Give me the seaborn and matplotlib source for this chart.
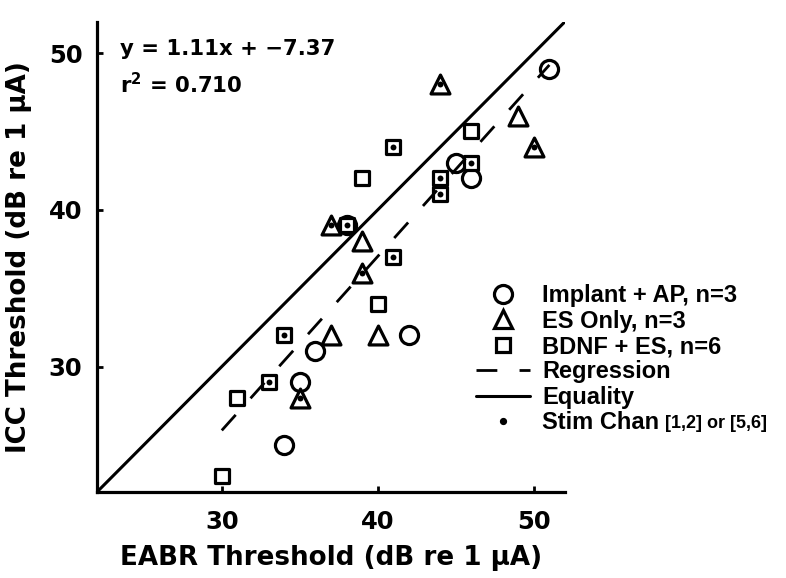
import numpy as np
import pandas as pd
import matplotlib
matplotlib.use("Agg")
import matplotlib.pyplot as plt
import seaborn as sns
from matplotlib.lines import Line2D

# data (EABR x, ICC y), dot = stim chan [1,2] or [5,6]
implant_x = [51, 45, 46, 36, 35, 34, 42, 38]
implant_y = [49, 43, 42, 31, 29, 25, 32, 39]
implant_dot = [0, 0, 0, 0, 0, 0, 0, 0]

es_x = [44, 49, 50, 37, 39, 39, 37, 40, 35]
es_y = [48, 46, 44, 39, 38, 36, 32, 32, 28]
es_dot = [1, 0, 1, 1, 0, 1, 0, 0, 1]

bdnf_x = [46, 41, 39, 46, 44, 44, 38, 41, 40, 34, 33, 31, 30]
bdnf_y = [45, 44, 42, 43, 42, 41, 39, 37, 34, 32, 29, 28, 23]
bdnf_dot = [0, 1, 0, 1, 1, 1, 1, 1, 0, 1, 1, 0, 0]

slope = 1.11
intercept = -7.37
r2 = 0.710

ticks = [30, 40, 50]
axis_lim = [22, 52]

groups = ["Implant + AP, n=3", "ES Only, n=3", "BDNF + ES, n=6"]
df = pd.concat([
    pd.DataFrame({"x": implant_x, "y": implant_y, "dot": implant_dot, "group": groups[0]}),
    pd.DataFrame({"x": es_x, "y": es_y, "dot": es_dot, "group": groups[1]}),
    pd.DataFrame({"x": bdnf_x, "y": bdnf_y, "dot": bdnf_dot, "group": groups[2]}),
], ignore_index=True)

sns.set_style("ticks")
plt.rcParams["font.family"] = ["DejaVu Sans"]
plt.rcParams["font.weight"] = "bold"
for k in ["text.color", "axes.labelcolor", "xtick.color", "ytick.color", "axes.edgecolor"]:
    plt.rcParams[k] = "black"

fig = plt.figure(figsize=(7.86, 5.78), dpi=100)
ax = fig.add_axes([0.1234, 0.1488, 0.5954, 0.8137])

markers = {groups[0]: "o", groups[1]: "^", groups[2]: "s"}
sizes = {groups[0]: 170, groups[1]: 185, groups[2]: 100}
for g in groups:
    sub = df[df["group"] == g]
    sns.scatterplot(data=sub, x="x", y="y", marker=markers[g], s=sizes[g],
                    facecolor="white", edgecolor="black", linewidth=2.3,
                    ax=ax, legend=False, zorder=2)

dots = df[df["dot"] == 1]
sns.scatterplot(data=dots, x="x", y="y", marker="o", s=18, color="black",
                edgecolor="black", linewidth=0, ax=ax, legend=False, zorder=3)

# regression and equality lines
xr = np.array([df["x"].min(), df["x"].max()])
ax.plot(xr, slope * xr + intercept, color="black", lw=2.0,
        linestyle=(0, (7.5, 8)), zorder=4)
ax.plot(axis_lim, axis_lim, color="black", lw=2.2, zorder=4)

ax.set_xlim(axis_lim)
ax.set_ylim(axis_lim)
ax.set_xticks(ticks)
ax.set_yticks(ticks)
sns.despine(ax=ax)
for s in ["left", "bottom"]:
    ax.spines[s].set_linewidth(2.3)
ax.tick_params(direction="in", length=4, width=2, labelsize=17.5)
ax.tick_params(axis="x", pad=13)
ax.tick_params(axis="y", pad=10.5)
for lab in ax.get_xticklabels() + ax.get_yticklabels():
    lab.set_fontweight("bold")

ax.set_xlabel("EABR Threshold (dB re 1 \u03bcA)", fontsize=18.8, fontweight="bold", labelpad=8)
ax.set_ylabel("ICC Threshold (dB re 1 \u03bcA)", fontsize=18.8, fontweight="bold", labelpad=12)

ax.text(0.049, 0.929, "y = %.2fx + \u2212%.2f" % (slope, -intercept),
        transform=ax.transAxes, fontsize=15.3, fontweight="bold", va="baseline")
ax.text(0.049, 0.848, r"r$^\mathbf{2}$ = %.3f" % r2,
        transform=ax.transAxes, fontsize=15.3, fontweight="bold", va="baseline")

handles = [
    Line2D([], [], ls="none", marker="o", ms=13, mfc="white", mec="black", mew=2.3),
    Line2D([], [], ls="none", marker="^", ms=13.5, mfc="white", mec="black", mew=2.3),
    Line2D([], [], ls="none", marker="s", ms=10, mfc="white", mec="black", mew=2.3),
    Line2D([], [], color="black", lw=2.0, linestyle=(0, (7.5, 8))),
    Line2D([], [], color="black", lw=2.2),
    Line2D([], [], ls="none", marker="o", ms=4.2, color="black"),
]
labels = groups + ["Regression", "Equality", "Stim Chan"]
leg = fig.legend(handles, labels, loc="upper left", bbox_to_anchor=(0.6056, 0.508),
                 frameon=False, borderpad=0, borderaxespad=0, labelspacing=0.1,
                 handlelength=2.3, handletextpad=0.5,
                 prop={"family": "Liberation Sans", "weight": "bold", "size": 17})

# smaller trailing text after "Stim Chan"
fig.canvas.draw()
stim_text = leg.get_texts()[-1]
ax.annotate("[1,2] or [5,6]", xy=(1, 0), xycoords=stim_text, xytext=(4.5, 1.5),
            textcoords="offset points", va="bottom", ha="left",
            fontsize=13, fontweight="bold", family="Liberation Sans")

fig.savefig("out.png", dpi=100)
